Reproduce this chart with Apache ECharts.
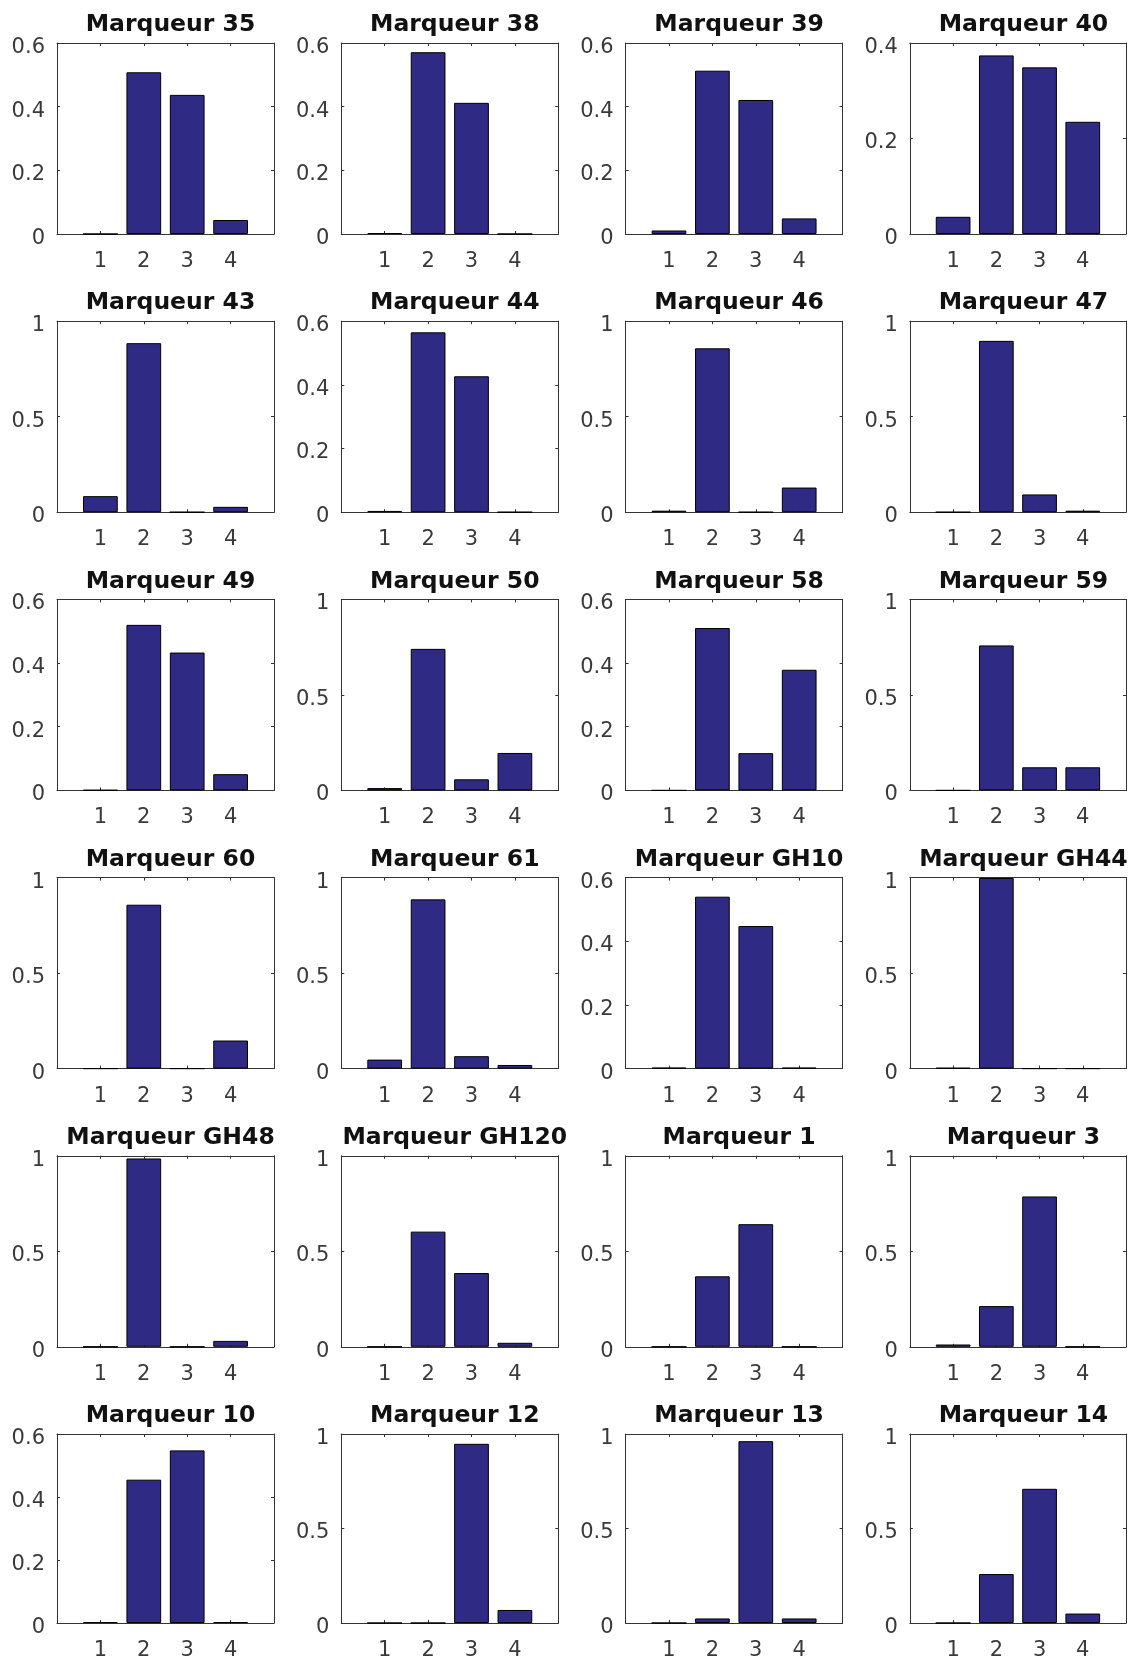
<!DOCTYPE html>
<html><head><meta charset="utf-8">
<script src="https://cdn.jsdelivr.net/npm/echarts@6/dist/echarts.min.js"></script>
<style>html,body{margin:0;padding:0;background:#fff}#c{width:1129px;height:1661px}</style>
</head><body><div id="c"></div>
<script>
const panelTitles = ['Marqueur 35','Marqueur 38','Marqueur 39','Marqueur 40',
  'Marqueur 43','Marqueur 44','Marqueur 46','Marqueur 47',
  'Marqueur 49','Marqueur 50','Marqueur 58','Marqueur 59',
  'Marqueur 60','Marqueur 61','Marqueur GH10','Marqueur GH44',
  'Marqueur GH48','Marqueur GH120','Marqueur 1','Marqueur 3',
  'Marqueur 10','Marqueur 12','Marqueur 13','Marqueur 14'];
const categories = [1, 2, 3, 4];
const values1 = [0, 0.003, 0.011, 0.036, 0.084, 0.004, 0.008, 0, 0.001, 0.012, 0, 0, 0, 0.047, 0.003, 0.004, 0, 0, 0, 0.012, 0.003, 0, 0, 0];
const values2 = [0.508, 0.571, 0.513, 0.374, 0.885, 0.565, 0.858, 0.897, 0.520, 0.741, 0.510, 0.759, 0.858, 0.886, 0.540, 0.998, 0.986, 0.603, 0.369, 0.213, 0.455, 0, 0.024, 0.259];
const values3 = [0.437, 0.412, 0.421, 0.349, 0, 0.427, 0, 0.093, 0.433, 0.058, 0.117, 0.121, 0, 0.065, 0.448, 0, 0, 0.386, 0.642, 0.787, 0.548, 0.948, 0.962, 0.710];
const values4 = [0.044, 0, 0.049, 0.235, 0.028, 0, 0.129, 0.008, 0.051, 0.196, 0.379, 0.121, 0.147, 0.019, 0.003, 0, 0.031, 0.021, 0, 0, 0.003, 0.069, 0.024, 0.050];
const yMax = [0.6, 0.6, 0.6, 0.4, 1, 0.6, 1, 1, 0.6, 1, 0.6, 1, 1, 1, 0.6, 1, 1, 1, 1, 1, 0.6, 1, 1, 1];
const yStep = [0.2, 0.2, 0.2, 0.2, 0.5, 0.2, 0.5, 0.5, 0.2, 0.5, 0.2, 0.5, 0.5, 0.5, 0.2, 0.5, 0.5, 0.5, 0.5, 0.5, 0.2, 0.5, 0.5, 0.5];

const chart = echarts.init(document.getElementById('c'), null, {renderer: 'canvas'});
const COLS = 4, LEFT0 = 57, COLSTEP = 284.3, TOP0 = 43, ROWSTEP = 278.2, W = 217, H = 191;
const AX = '#333333', LBL = '#3a3a3a', FONT = 'DejaVu Sans';
const grids = [], xAxes = [], yAxes = [], series = [], titles = [];

panelTitles.forEach((t, i) => {
  const c = i % COLS, r = Math.floor(i / COLS);
  const left = LEFT0 + COLSTEP * c, top = TOP0 + ROWSTEP * r;
  grids.push({left: left, top: top, width: W, height: H, containLabel: false});
  titles.push({text: t, left: left + W / 2, top: top - 37, textAlign: 'center',
    textStyle: {fontFamily: FONT, fontWeight: 'bold', fontSize: 23.5, color: '#111', lineHeight: 28}});
  const tick = {show: true, inside: true, length: 3, lineStyle: {color: AX, width: 1}};
  const line = {show: true, onZero: false, lineStyle: {color: AX, width: 1}};
  xAxes.push({gridIndex: i, type: 'value', min: 0, max: 5, interval: 1, position: 'bottom',
    axisLine: line, axisTick: tick, splitLine: {show: false},
    axisLabel: {show: true, margin: 17, fontFamily: FONT, fontSize: 21, color: LBL,
      formatter: v => categories.includes(v) ? String(v) : ''}});
  xAxes.push({gridIndex: i, type: 'value', min: 0, max: 5, interval: 1, position: 'top',
    axisLine: line, axisTick: tick, splitLine: {show: false}, axisLabel: {show: false}});
  yAxes.push({gridIndex: i, type: 'value', min: 0, max: yMax[i], interval: yStep[i], position: 'left',
    axisLine: line, axisTick: tick, splitLine: {show: false},
    axisLabel: {show: true, margin: 12, fontFamily: FONT, fontSize: 21, color: LBL,
      verticalAlign: 'top', lineHeight: 9}});
  yAxes.push({gridIndex: i, type: 'value', min: 0, max: yMax[i], interval: yStep[i], position: 'right',
    axisLine: line, axisTick: tick, splitLine: {show: false}, axisLabel: {show: false}});
  const vals = [values1[i], values2[i], values3[i], values4[i]];
  series.push({type: 'bar', xAxisIndex: 2 * i, yAxisIndex: 2 * i,
    data: categories.map((cat, k) => [cat, vals[k]]),
    barWidth: W / 5 * 0.8, animation: false, silent: true,
    itemStyle: {color: '#2f2a84', borderColor: '#000', borderWidth: 1}});
});

chart.setOption({backgroundColor: '#fff', animation: false,
  title: titles, grid: grids, xAxis: xAxes, yAxis: yAxes, series: series});
</script></body></html>
